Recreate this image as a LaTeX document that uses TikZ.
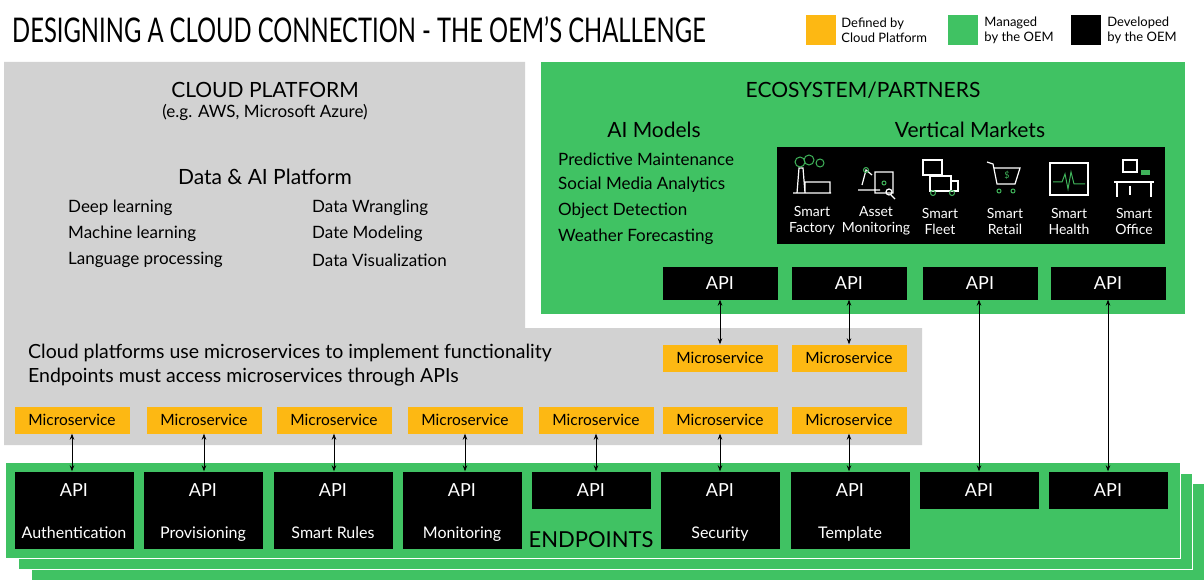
\documentclass[tikz,border=0pt]{standalone}
\usepackage{fontspec}
\setmainfont{Lato}
\usetikzlibrary{arrows.meta,positioning}
\definecolor{oemgreen}{HTML}{40C263}
\definecolor{cpgray}{HTML}{D2D2D2}
\definecolor{cporange}{HTML}{FDB813}
\definecolor{icongreen}{HTML}{3FB35A}

\begin{document}
\begin{tikzpicture}[x=1pt,y=-1pt,
  micro/.style={rectangle, fill=cporange, minimum width=115pt, minimum height=27pt, inner sep=0pt, font=\fontsize{15.5}{17}\selectfont},
  api/.style={rectangle, fill=black, text=white, minimum width=115pt, minimum height=33pt, inner sep=0pt, font=\fontsize{18}{20}\selectfont},
  ep/.style={rectangle, fill=black, minimum width=119pt, minimum height=77pt, inner sep=0pt},
  eps/.style={rectangle, fill=black, minimum width=119pt, minimum height=37pt, inner sep=0pt},
  txt/.style={anchor=west, inner sep=0pt, font=\fontsize{17}{19}\selectfont},
  head/.style={inner sep=0pt, font=\fontsize{21}{23}\selectfont},
  mkt/.style={text=white, align=center, inner sep=0pt, font=\fontsize{14}{16}\selectfont},
  icon/.style={white, line width=1.2pt},
  leg/.style={anchor=west, align=left, inner sep=0pt, font=\fontsize{13}{15}\selectfont},
  arrow/.style={{Stealth[length=6pt]}-{Stealth[length=6pt]}, line width=0.7pt}
]
\useasboundingbox (0,0) rectangle (1204,580);

% Title and legend
\node[anchor=west, inner sep=0pt, xscale=0.7, font=\fontsize{34}{36}\selectfont] (title) at (12,30) {DESIGNING A CLOUD CONNECTION - THE OEM'S CHALLENGE};
\node[fill=cporange, minimum size=30pt, inner sep=0pt] (legcp) at (821,30) {};
\node[leg, right=5pt of legcp] (legcptxt) {Defined by\\Cloud Platform};
\node[fill=oemgreen, minimum size=30pt, inner sep=0pt] (legman) at (963,30) {};
\node[leg, right=6pt of legman] (legmantxt) {Managed\\by the OEM};
\node[fill=black, minimum size=30pt, inner sep=0pt] (legdev) at (1086,30) {};
\node[leg, right=6pt of legdev] (legdevtxt) {Developed\\by the OEM};

% Regions
\fill[cpgray] (4,62) -- (525,62) -- (525,328) -- (922,328) -- (922,445) -- (4,445) -- cycle;
\fill[oemgreen] (541,62) rectangle (1185,314);
\fill[oemgreen, draw=white] (31,483) rectangle (1204,580);
\fill[oemgreen, draw=white] (18,473) rectangle (1192,569);
\fill[oemgreen, draw=white] (5,462) rectangle (1180,558);

% Cloud platform
\node[head] (cloud) at (265,90) {CLOUD PLATFORM};
\node[txt, anchor=center] (cloudex) at (265,112) {(e.g. AWS, Microsoft Azure)};
\node[head] (dataai) at (265,177) {Data \& AI Platform};
\node[txt] (dl) at (68,208) {Deep learning};
\node[txt] (ml) at (68,234) {Machine learning};
\node[txt] (lp) at (68,260) {Language processing};
\node[txt] (dw) at (312,208) {Data Wrangling};
\node[txt] (dm) at (312,234) {Date Modeling};
\node[txt] (dv) at (312,260) {Data Visualization};
\node[txt, font=\fontsize{19.5}{21}\selectfont] (ms1) at (28,353) {Cloud platforms use microservices to implement functionality};
\node[txt, font=\fontsize{19.5}{21}\selectfont] (ms2) at (28,377) {Endpoints must access microservices through APIs};

% Ecosystem
\node[head] (eco) at (863,90) {ECOSYSTEM/PARTNERS};
\node[head] (aim) at (654,130) {AI Models};
\node[head] (vert) at (970,130) {Vertical Markets};
\node[txt] (pm) at (558,159) {Predictive Maintenance};
\node[txt] (sma) at (558,185) {Social Media Analytics};
\node[txt] (od) at (558,211) {Object Detection};
\node[txt] (wf) at (558,237) {Weather Forecasting};
\fill[black] (777,147) rectangle (1165,244);

% Vertical market icons
\foreach \x/\a/\b [count=\i] in {812/Smart/Factory, 876/Asset/Monitoring, 940/Smart/Fleet, 1005/Smart/Retail, 1069/Smart/Health, 1134/Smart/Office}
  \node[mkt] (mkt\i) at (\x,221) {\a\\\b};
% factory
\draw[icon] (793,193) -- (831,193) (797,193) -- (799,168) -- (803,168) -- (805,193) (805,182) rectangle (830,193);
\draw[icongreen, line width=1pt] (800,162) circle (5pt) (809,160) circle (5pt) (820,163) circle (4pt);
% asset monitoring
\draw[icon] (858,190) -- (880,190) (875,172) rectangle (893,193) (862,185) -- (866,170) -- (872,175);
\draw[icongreen, line width=1pt] (866,170) circle (2.5pt) (884,183) circle (2pt);
\draw[icon] (889,192) circle (3pt) (891,195) -- (895,199);
% fleet
\draw[icon] (923,160) rectangle (942,175) (930,176) rectangle (951,191) (951,181) -- (958,181) -- (958,191) -- (951,191);
\draw[icongreen, line width=1pt] (933,193) circle (2.5pt) (952,193) circle (2.5pt);
% retail
\draw[icon] (987,162) -- (993,164) -- (997,184) -- (1015,184) -- (1020,168) -- (994,168);
\node[text=icongreen, inner sep=0pt, font=\fontsize{9}{9}\selectfont] (dollar) at (1007,175) {\$};
\draw[icongreen, line width=1pt] (999,191) circle (2pt) (1013,191) circle (2pt);
% health
\draw[icon] (1050,163) rectangle (1088,195);
\draw[icongreen, line width=1pt] (1053,182) -- (1062,182) -- (1065,174) -- (1068,189) -- (1071,172) -- (1074,184) -- (1085,184);
% office
\draw[icon] (1114,182) -- (1154,182) (1117,182) -- (1117,197) (1151,182) -- (1151,197) (1123,160) rectangle (1137,172) (1130,186) -- (1130,195);
\fill[icongreen] (1141,170) rectangle (1150,175);

% Ecosystem APIs
\foreach \x [count=\i] in {720,849,980,1108}
  \node[api] (eapi\i) at (\x,283) {API};

% Microservices
\node[micro] (umicro1) at (720,358) {Microservice};
\node[micro] (umicro2) at (849,358) {Microservice};
\foreach \x [count=\i] in {72,204,334,465,596,720,849}
  \node[micro] (micro\i) at (\x,420) {Microservice};

% Endpoint APIs
\foreach \x/\lbl [count=\i] in {74/Authentication, 203/Provisioning, 333/Smart Rules, 462/Monitoring, 720/Security, 850/Template}
  \node[ep] (ep\i) at (\x,510) {};
\foreach \x/\lbl [count=\i] in {74/Authentication, 203/Provisioning, 333/Smart Rules, 462/Monitoring, 720/Security, 850/Template} {
  \node[text=white, inner sep=0pt, font=\fontsize{18}{20}\selectfont] (epapi\i) at (\x,490) {API};
  \node[text=white, inner sep=0pt, anchor=base, font=\fontsize{16}{18}\selectfont] (eplbl\i) at (\x,538) {\lbl};
}
\node[eps, text=white, font=\fontsize{18}{20}\selectfont] (eps1) at (591,490) {API};
\node[eps, text=white, font=\fontsize{18}{20}\selectfont] (eps2) at (979,490) {API};
\node[eps, text=white, font=\fontsize{18}{20}\selectfont] (eps3) at (1108,490) {API};
\node[inner sep=0pt, font=\fontsize{22}{24}\selectfont] (endpoints) at (591,540) {ENDPOINTS};

% Arrows
\draw[arrow] (eapi1) -- (umicro1);
\draw[arrow] (eapi2) -- (umicro2);
\draw[arrow] (micro1) -- (ep1.north -| micro1);
\draw[arrow] (micro2) -- (ep2.north -| micro2);
\draw[arrow] (micro3) -- (ep3.north -| micro3);
\draw[arrow] (micro4) -- (ep4.north -| micro4);
\draw[arrow] (micro5) -- (eps1.north -| micro5);
\draw[arrow] (micro6) -- (ep5.north -| micro6);
\draw[arrow] (micro7) -- (ep6.north -| micro7);
\draw[arrow] (eapi3.south -| eps2) -- (eps2);
\draw[arrow] (eapi4) -- (eps3);

\end{tikzpicture}
\end{document}
